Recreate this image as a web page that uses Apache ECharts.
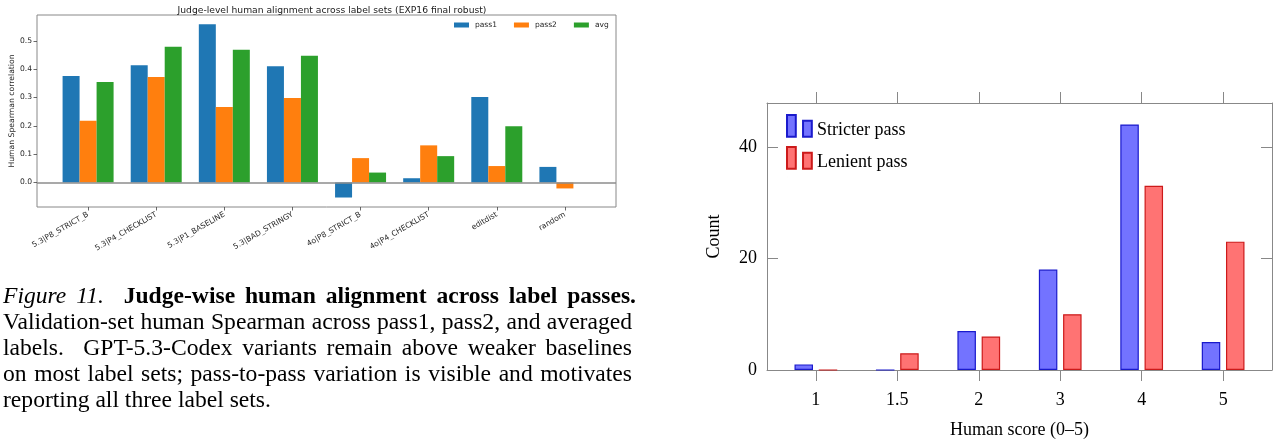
<!DOCTYPE html>
<html>
<head>
<meta charset="utf-8">
<script src="https://cdn.jsdelivr.net/npm/echarts@6/dist/echarts.min.js"></script>
<style>
  html, body { margin: 0; padding: 0; background: #fff; }
  #chart { width: 1282px; height: 441px; }
</style>
</head>
<body>
<div id="chart"></div>
<script>
// left panel: judge-level alignment
const judgeLabels = ['5.3|P8_STRICT_B', '5.3|P4_CHECKLIST', '5.3|P1_BASELINE', '5.3|BAD_STRINGY',
  '4o|P8_STRICT_B', '4o|P4_CHECKLIST', 'editdist', 'random'];
const pass1 = [0.376, 0.414, 0.558, 0.410, -0.053, 0.015, 0.302, 0.055];
const pass2 = [0.218, 0.372, 0.266, 0.298, 0.086, 0.131, 0.058, -0.021];
const avgVals = [0.355, 0.479, 0.468, 0.447, 0.035, 0.093, 0.198, 0];
const corrTicks = [0, 0.1, 0.2, 0.3, 0.4, 0.5];

// right panel: human score histogram
const scoreLabels = ['1', '1.5', '2', '3', '4', '5'];
const stricter = [1, 0, 7, 18, 44, 5];
const lenient = [0, 3, 6, 10, 33, 23];
const countTicks = [0, 20, 40];

// caption
const captionHead = [['Figure', 'i'], ['11.', 'i'], ['', 'n'], ['Judge-wise', 'b'], ['human', 'b'],
  ['alignment', 'b'], ['across', 'b'], ['label', 'b'], ['passes.', 'b']];
const captionLines = [
  'Validation-set human Spearman across pass1, pass2, and averaged',
  'labels.  GPT-5.3-Codex variants remain above weaker baselines',
  'on most label sets; pass-to-pass variation is visible and motivates',
  'reporting all three label sets.'
];

const idx = arr => arr.map((v, i) => [i, v]);
const mplFont = 'DejaVu Sans';
const serif = 'Liberation Serif';
const capSize = 23.6;

// justified caption, one text element per word
const ctx = document.createElement('canvas').getContext('2d');
function fontOf(kind) {
  const st = kind === 'i' ? 'italic ' : '';
  const wt = kind === 'b' ? 'bold ' : '';
  return st + wt + capSize + 'px "' + serif + '"';
}
function measure(t, kind) {
  ctx.font = fontOf(kind);
  return ctx.measureText(t).width;
}
function justify(words, y, left, right, justified) {
  const ws = words.map(w => measure(w[0], w[1]));
  const total = ws.reduce((a, b) => a + b, 0);
  const spaceW = measure(' ', 'n');
  const gap = justified ? (right - left - total) / (words.length - 1) : spaceW;
  let x = left;
  const out = [];
  words.forEach((w, k) => {
    if (w[0]) {
      out.push({
        type: 'text', x: x, y: y,
        style: { text: w[0], font: fontOf(w[1]), fill: '#000', verticalAlign: 'middle' }
      });
    }
    x += ws[k] + gap;
  });
  return out;
}

let captionGraphic = justify(captionHead, 297, 3, 636, true);
const lineY = [323, 349, 375, 401];
captionLines.forEach((line, k) => {
  const words = line.split(' ').map(w => [w, 'n']);
  captionGraphic = captionGraphic.concat(justify(words, lineY[k], 3, 632, k < captionLines.length - 1));
});

const chart = echarts.init(document.getElementById('chart'));

const leftText = { fontFamily: mplFont, fontSize: 7.6, color: '#262626' };
const rightText = { fontFamily: serif, fontSize: 18, color: '#000' };
const frame = '#888';

const option = {
  animation: false,
  title: {
    text: 'Judge-level human alignment across label sets (EXP16 final robust)',
    left: 327, top: 1, textAlign: 'center',
    textStyle: { fontFamily: mplFont, fontSize: 9.2, fontWeight: 'normal', color: '#1a1a1a' }
  },
  legend: [
    {
      data: ['pass1', 'pass2', 'avg'],
      left: 454, top: 21, padding: 0,
      icon: 'rect', itemWidth: 15, itemHeight: 5, itemGap: 17,
      textStyle: { fontFamily: mplFont, fontSize: 7.5, color: '#262626', padding: [0, 0, 0, 1] }
    },
    {
      data: ['Stricter pass', 'Lenient pass'],
      left: 786, top: 114, orient: 'vertical', padding: 0,
      // two bars, plus an empty point below so the label sits lower than the icon
      icon: 'path://M0.5,0.5h8.5v21h-8.5z M16,6h8.5v15.5h-8.5z M0.5,29.5h0.01',
      itemWidth: 25, itemHeight: 30, itemGap: 0,
      textStyle: { fontFamily: serif, fontSize: 18, color: '#000' }
    }
  ],
  grid: [
    { left: 37, top: 15, width: 579, height: 192, show: true, borderColor: frame, borderWidth: 1,
      backgroundColor: 'transparent', outerBoundsMode: 'none' },
    { left: 767, top: 103, width: 505, height: 267, outerBoundsMode: 'none' }
  ],
  xAxis: [
    {
      type: 'value', gridIndex: 0, min: -0.75, max: 7.75,
      axisLine: { show: false, onZero: false }, splitLine: { show: false },
      axisTick: { show: true, customValues: [0, 1, 2, 3, 4, 5, 6, 7], length: 3.5, lineStyle: { color: '#444', width: 0.8 } },
      axisLabel: {
        customValues: [0, 1, 2, 3, 4, 5, 6, 7], rotate: 30, margin: 7,
        formatter: v => judgeLabels[Math.round(v)], ...leftText
      }
    },
    {
      type: 'value', gridIndex: 1, min: -0.6, max: 5.6,
      axisLine: { show: true, onZero: false, lineStyle: { color: frame, width: 1 } },
      splitLine: { show: false },
      axisTick: { show: true, customValues: [0, 1, 2, 3, 4, 5], length: 11, lineStyle: { color: frame, width: 1 } },
      axisLabel: { customValues: [0, 1, 2, 3, 4, 5], margin: 21, formatter: v => scoreLabels[Math.round(v)], ...rightText },
      name: 'Human score (0\u20135)', nameLocation: 'middle', nameGap: 51,
      nameTextStyle: rightText
    },
    {
      type: 'value', gridIndex: 1, min: -0.6, max: 5.6, position: 'top',
      axisLine: { show: true, onZero: false, lineStyle: { color: frame, width: 1 } },
      splitLine: { show: false },
      axisTick: { show: true, customValues: [0, 1, 2, 3, 4, 5], length: 11, lineStyle: { color: frame, width: 1 } },
      axisLabel: { show: false }
    }
  ],
  yAxis: [
    {
      type: 'value', gridIndex: 0, min: -0.0865, max: 0.591,
      axisLine: { show: false, onZero: false }, splitLine: { show: false },
      axisTick: { show: true, customValues: corrTicks, length: 3.5, lineStyle: { color: '#444', width: 0.8 } },
      axisLabel: { customValues: corrTicks, margin: 5, formatter: v => v.toFixed(1), ...leftText },
      name: 'Human Spearman correlation', nameLocation: 'middle', nameGap: 20,
      nameTextStyle: { fontFamily: mplFont, fontSize: 7.7, color: '#262626' }
    },
    {
      type: 'value', gridIndex: 1, min: 0, max: 47.85,
      axisLine: { show: true, onZero: false, lineStyle: { color: frame, width: 1 } },
      splitLine: { show: false },
      axisTick: { show: true, inside: true, customValues: countTicks, length: 11, lineStyle: { color: frame, width: 1 } },
      axisLabel: { customValues: countTicks, margin: 10, ...rightText },
      name: 'Count', nameLocation: 'middle', nameGap: 44, nameTextStyle: rightText
    },
    {
      type: 'value', gridIndex: 1, min: 0, max: 47.85, position: 'right',
      axisLine: { show: true, onZero: false, lineStyle: { color: frame, width: 1 } },
      splitLine: { show: false },
      axisTick: { show: true, inside: true, customValues: countTicks, length: 11, lineStyle: { color: frame, width: 1 } },
      axisLabel: { show: false }
    }
  ],
  series: [
    {
      name: 'pass1', type: 'bar', xAxisIndex: 0, yAxisIndex: 0, data: idx(pass1),
      barWidth: 17, barGap: '0%', itemStyle: { color: '#1f77b4' },
      markLine: {
        silent: true, symbol: 'none', label: { show: false },
        lineStyle: { color: '#8c8c8c', width: 1.5, type: 'solid' },
        data: [{ yAxis: 0 }], z: 5
      }
    },
    { name: 'pass2', type: 'bar', xAxisIndex: 0, yAxisIndex: 0, data: idx(pass2), barWidth: 17, barGap: '0%', itemStyle: { color: '#ff7f0e' } },
    { name: 'avg', type: 'bar', xAxisIndex: 0, yAxisIndex: 0, data: idx(avgVals), barWidth: 17, barGap: '0%', itemStyle: { color: '#2ca02c' } },
    {
      name: 'Stricter pass', type: 'bar', xAxisIndex: 1, yAxisIndex: 1, data: idx(stricter),
      barWidth: 18.5, barGap: '31%',
      itemStyle: { color: '#7373ff', borderColor: '#1a1acc', borderWidth: 1.2 }
    },
    {
      name: 'Lenient pass', type: 'bar', xAxisIndex: 1, yAxisIndex: 1, data: idx(lenient),
      barWidth: 18.5, barGap: '31%',
      itemStyle: { color: '#ff7373', borderColor: '#cc1a1a', borderWidth: 1.2 }
    }
  ],
  graphic: captionGraphic
};

chart.setOption(option);
</script>
</body>
</html>
